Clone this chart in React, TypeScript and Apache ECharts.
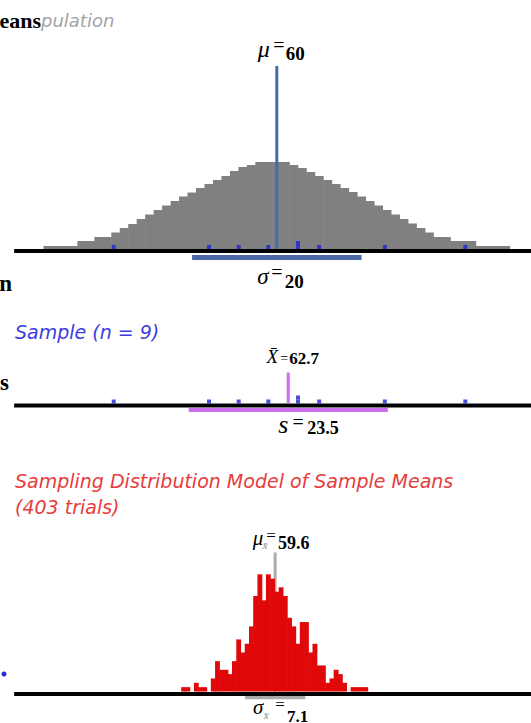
import React, { useEffect, useRef } from "react";
import * as echarts from "echarts";

// ---------- data ----------
const X_MIN = -2;
const X_MAX = 120;

// Population histogram (bins of width 2 starting at 5), heights in display units
const popBinStart = 5;
const popBinWidth = 2;
const popHeights = [
  3, 3, 3, 3, 8, 8, 12, 12, 16.5, 21, 25, 30, 34.5, 39, 43.5, 48, 52.5, 56.5, 61, 65, 69, 73, 78, 82, 84,
  87, 87, 87, 87,
  84, 81, 77, 73, 69, 65, 61, 57, 52.5, 48, 43.5, 39, 34.5, 30, 25.5, 21, 16.5, 12, 12, 8, 8, 8, 3, 3, 3, 3,
];
const popMean = 60;
const popSD = 20;

// Sample of n = 9
const sampleValues = [21.5, 44, 51, 58, 65, 65, 70, 85.5, 104.5];
const sampleMean = 62.7;
const sampleSD = 23.5;

// Sampling distribution of sample means (403 trials), 1-unit bins centred on integers from 38
const meansBinStart = 38;
const meansCounts = [
  1, 1, 0, 2, 1, 1, 0, 3, 7, 5, 5, 4, 7, 12, 9, 11, 15, 22, 27, 21, 27, 26, 23, 24, 22, 17, 15, 11, 16, 16,
  9, 11, 6, 6, 2, 3, 5, 4, 2, 0, 1, 1, 1, 1,
];
const meansMean = 59.6;
const meansSD = 7.1;

// ---------- styles ----------
const SERIF = '"Liberation Serif", "Times New Roman", serif';
const SANS = '"DejaVu Sans", Verdana, sans-serif';
const C_POP = "#808080";
const C_POPLINE = "#4a68a6";
const C_DOT = "#1f1fd6";
const C_SAMPLE = "#cf6df0";
const C_MEANS = "#e00808";
const C_MEANSLINE = "#aaaaaa";

const histRender = (color: string) => (params: any, api: any) => {
  const x0 = api.value(0);
  const x1 = api.value(1);
  const h = api.value(2);
  if (!h) return null;
  const p0 = api.coord([x0, h]);
  const p1 = api.coord([x1, 0]);
  return {
    type: "rect",
    shape: { x: p0[0] - 0.3, y: p0[1], width: p1[0] - p0[0] + 0.6, height: p1[1] - p0[1] },
    style: { fill: color },
  };
};

function stackDots(vals: number[]) {
  const seen: Record<string, number> = {};
  return vals.map((v) => {
    const k = seen[v] || 0;
    seen[v] = k + 1;
    return [v, 2 + 4 * k];
  });
}

function vline(x: number, y0: number, y1: number) {
  return [
    [x, y0],
    [x, y1],
  ];
}

export default function App() {
  const ref = useRef<HTMLDivElement>(null);
  useEffect(() => {
    const chart = echarts.init(ref.current!, null, { renderer: "svg" });
    const gl = 14.14;
    const gw = 522.2;
    const popData = popHeights.map((h, i) => [
      popBinStart + i * popBinWidth,
      popBinStart + (i + 1) * popBinWidth,
      h,
    ]);
    const meansData = meansCounts.map((c, i) => [
      meansBinStart + i - 0.5,
      meansBinStart + i + 0.5,
      c,
    ]);
    const dots = stackDots(sampleValues);
    const lineS = (xi: number, data: any, color: string, width: number, z = 3) => ({
      type: "line",
      xAxisIndex: xi,
      yAxisIndex: xi,
      data,
      symbol: "none",
      lineStyle: { color, width, cap: "butt" },
      silent: true,
      z,
    });
    const u2 = 4.34;
    chart.setOption({
      animation: false,
      grid: [
        { left: gl, width: gw, top: 66, height: 205 },
        { left: gl, width: gw, top: 363.5, height: 54 },
        { left: gl, width: gw, top: 691.5 - 32 * u2, height: 36 * u2 },
      ],
      xAxis: [0, 1, 2].map((g) => ({ type: "value", gridIndex: g, min: X_MIN, max: X_MAX, show: false })),
      yAxis: [
        { type: "value", gridIndex: 0, min: -22, max: 183, show: false },
        { type: "value", gridIndex: 1, min: -14, max: 40, show: false },
        { type: "value", gridIndex: 2, min: -4, max: 32, show: false },
      ],
      series: [
        // population
        {
          type: "custom",
          xAxisIndex: 0,
          yAxisIndex: 0,
          renderItem: histRender(C_POP),
          data: popData,
          encode: { x: [0, 1], y: 2 },
          z: 2,
        },
        lineS(0, vline(popMean, 0, 183), C_POPLINE, 3, 4),
        lineS(0, [[X_MIN, -2], [X_MAX, -2]], "#000", 4, 3),
        lineS(0, [[popMean - popSD, -8.5], [popMean + popSD, -8.5]], C_POPLINE, 5, 3),
        {
          type: "scatter",
          xAxisIndex: 0,
          yAxisIndex: 0,
          data: dots,
          symbol: "rect",
          symbolSize: [4, 4],
          itemStyle: { color: C_DOT },
          z: 5,
        },
        // sample
        lineS(1, [[X_MIN, -2], [X_MAX, -2]], "#000", 4, 3),
        lineS(1, vline(sampleMean, 0, 31), C_SAMPLE, 3, 4),
        lineS(1, [[sampleMean - sampleSD, -6.5], [sampleMean + sampleSD, -6.5]], C_SAMPLE, 4, 3),
        {
          type: "scatter",
          xAxisIndex: 1,
          yAxisIndex: 1,
          data: dots,
          symbol: "rect",
          symbolSize: [4, 4],
          itemStyle: { color: C_DOT },
          z: 5,
        },
        // sampling distribution
        lineS(2, vline(meansMean, 0, 32), C_MEANSLINE, 3, 1),
        {
          type: "custom",
          xAxisIndex: 2,
          yAxisIndex: 2,
          renderItem: histRender(C_MEANS),
          data: meansData,
          encode: { x: [0, 1], y: 2 },
          z: 2,
        },
        lineS(2, [[meansMean - meansSD, -1.31], [meansMean + meansSD, -1.31]], C_MEANSLINE, 4, 2),
        lineS(2, [[X_MIN, -0.576], [X_MAX, -0.576]], "#000", 4, 3),
      ],
    });

    const px = (xi: number, v: number) => chart.convertToPixel({ xAxisIndex: xi }, v) as number;
    const t = (
      x: number,
      y: number,
      text: string,
      o: { size: number; family?: string; style?: string; weight?: string; color?: string; align?: string }
    ) => ({
      type: "text",
      x,
      y,
      silent: true,
      z: 10,
      style: {
        text,
        fontSize: o.size,
        fontFamily: o.family || SERIF,
        fontStyle: o.style || "normal",
        fontWeight: o.weight || "normal",
        fill: o.color || "#000",
        align: o.align || "center",
        verticalAlign: "middle",
      },
    });
    const pm = px(0, popMean);
    const xb = px(1, sampleMean);
    const mm = px(2, meansMean);
    chart.setOption({
      graphic: [
        // cut-off side labels
        t(41, 20, "eans", { size: 22, weight: "bold", align: "right" }),
        t(41, 20, "pulation", { size: 18, family: SANS, style: "italic", color: "#a3a3a3", align: "left" }),
        t(12, 283.5, "n", { size: 23, weight: "bold", align: "right" }),
        t(9, 382.5, "s", { size: 23, weight: "bold", align: "right" }),
        { type: "circle", shape: { cx: 4, cy: 674, r: 2.5 }, style: { fill: "#2a2ad0" }, silent: true },
        // titles
        t(15, 332, "Sample (n = 9)", { size: 19, family: SANS, style: "italic", color: "#3b3be0", align: "left" }),
        t(15, 481, "Sampling Distribution Model of Sample Means", {
          size: 19, family: SANS, style: "italic", color: "#e63c3c", align: "left",
        }),
        t(15, 506.5, "(403 trials)", { size: 19, family: SANS, style: "italic", color: "#e63c3c", align: "left" }),
        // population mean / sd
        t(pm - 13, 49, "μ", { size: 24, style: "italic" }),
        t(pm + 2, 45, "=", { size: 20 }),
        t(pm + 9, 53, String(popMean), { size: 19, weight: "bold", align: "left" }),
        t(pm - 14, 276, "σ", { size: 23, style: "italic" }),
        t(pm, 272, "=", { size: 20 }),
        t(pm + 8, 281, String(popSD), { size: 19, weight: "bold", align: "left" }),
        // sample mean / sd
        t(xb - 16, 356, "X̄", { size: 19, style: "italic" }),
        t(xb - 4, 358, "=", { size: 14 }),
        t(xb + 1, 358, String(sampleMean), { size: 17, weight: "bold", align: "left" }),
        t(xb - 5, 424, "s", { size: 26, style: "italic" }),
        t(xb + 10, 422, "=", { size: 20 }),
        t(xb + 19, 428, String(sampleSD), { size: 18, weight: "bold", align: "left" }),
        // sampling distribution mean / sd
        t(mm - 17, 538, "μ", { size: 21, style: "italic" }),
        t(mm - 10, 545, "x̄", { size: 11, style: "italic", color: "#888" }),
        t(mm - 4, 535, "=", { size: 17 }),
        t(mm + 3, 543, String(meansMean), { size: 18, weight: "bold", align: "left" }),
        t(mm - 17, 707, "σ", { size: 21, style: "italic" }),
        t(mm - 9, 715, "x̄", { size: 11, style: "italic", color: "#888" }),
        t(mm + 5, 704.5, "=", { size: 17 }),
        t(mm + 12, 716.5, String(meansSD), { size: 17, weight: "bold", align: "left" }),
      ],
    });
    return () => chart.dispose();
  }, []);
  return (
    <div
      ref={ref}
      style={{ position: "absolute", left: 0, top: 0, width: 531, height: 723, background: "#fff" }}
    />
  );
}
